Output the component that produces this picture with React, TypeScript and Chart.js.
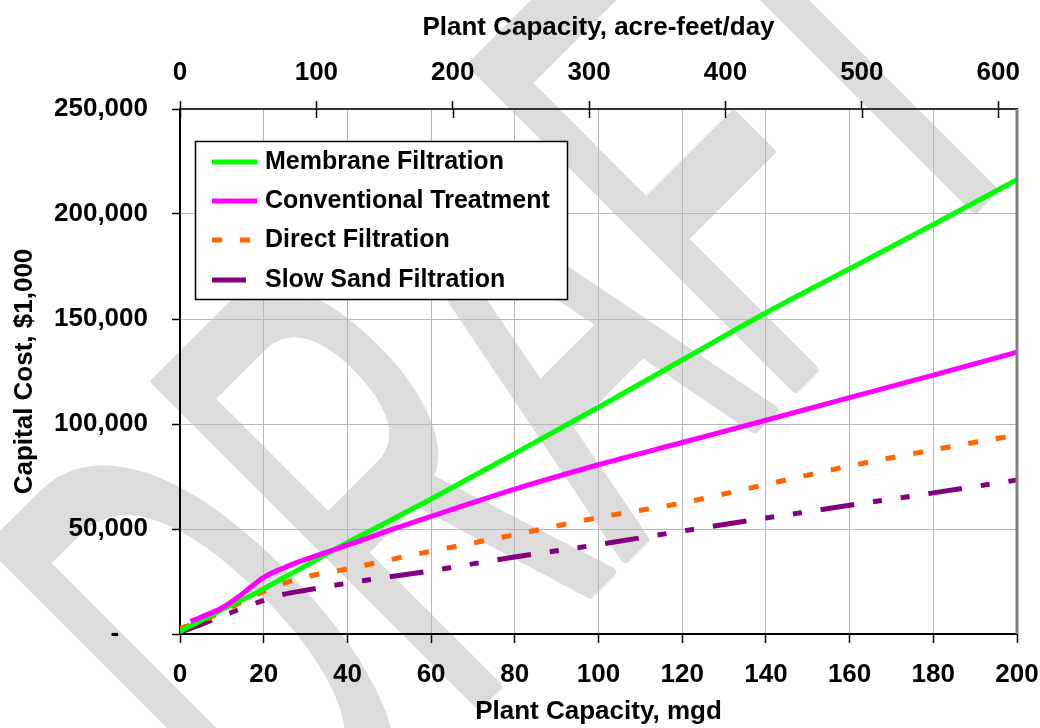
import React, { useEffect, useRef } from "react";
import { Chart, registerables } from "chart.js";

Chart.register(...registerables);

// ---- data ----
const capacityMgd = [0, 2.5, 5, 10, 15, 20, 25, 30, 40, 50, 60, 80, 100, 120, 140, 160, 180, 200];
const membraneFiltration = [1200, 3800, 6300, 11500, 16500, 21500, 27000, 32500, 43500, 53800, 64300, 86000, 108000, 130500, 153000, 174000, 195000, 216300];
const conventionalTreatment = [null, 6000, 8000, 12400, 19300, 27000, 31700, 35500, 42300, 49300, 56000, 69000, 80600, 91200, 101800, 112600, 123300, 134200];
const directFiltration = [2700, 4300, 6000, 10500, 15500, 20300, 24300, 27200, 31000, 35300, 39400, 47300, 55500, 62400, 71200, 80000, 87700, 94800];
const slowSandFiltration = [800, 2700, 4500, 8500, 12300, 16000, 19000, 20800, 24200, 27200, 30100, 36700, 42600, 49000, 55200, 61300, 67200, 73300];

const seriesNames = ["Membrane Filtration", "Conventional Treatment", "Direct Filtration", "Slow Sand Filtration"];
const seriesColors = ["#00FF00", "#FF00FF", "#FF6600", "#800080"];
const seriesDashes: number[][] = [[], [], [10, 18], [34, 19, 9, 19, 9, 19]];
const seriesValues = [membraneFiltration, conventionalTreatment, directFiltration, slowSandFiltration];

const acreFeetPerMgd = 3.0689;
const xMax = 200;
const yMax = 250000;
const yStep = 50000;
const xStep = 20;
const topStep = 100;

const xTitle = "Plant Capacity, mgd";
const topTitle = "Plant Capacity, acre-feet/day";
const yTitle = "Capital Cost, $1,000";
const watermarkText = "DRAFT";

const FONT = "'Liberation Sans', Arial, sans-serif";

export default function App() {
  const ref = useRef<HTMLCanvasElement | null>(null);

  useEffect(() => {
    document.body.style.margin = "0";
    const canvas = ref.current;
    if (!canvas) return;

    const watermark = {
      id: "watermark",
      beforeDraw(chart: any) {
        const ctx = chart.ctx;
        ctx.save();
        ctx.fillStyle = "#ffffff";
        ctx.fillRect(0, 0, chart.width, chart.height);
        ctx.translate(294, 889);
        ctx.rotate(-Math.PI / 4);
        ctx.scale(0.486, 1);
        ctx.font = `663px ${FONT}`;
        ctx.fillStyle = "#dcdcdc";
        ctx.strokeStyle = "#dcdcdc";
        ctx.lineWidth = 10;
        ctx.lineJoin = "round";
        ctx.textBaseline = "alphabetic";
        ctx.fillText(watermarkText, 0, 0);
        ctx.strokeText(watermarkText, 0, 0);
        ctx.restore();
      },
    };

    const frame = {
      id: "frame",
      afterDatasetsDraw(chart: any) {
        const ctx = chart.ctx;
        const a = chart.chartArea;
        ctx.save();
        ctx.strokeStyle = "#808080";
        ctx.lineWidth = 3;
        ctx.beginPath();
        ctx.moveTo(a.right, a.top);
        ctx.lineTo(a.right, a.bottom);
        ctx.stroke();
        const top = chart.scales.x2;
        ctx.strokeStyle = "#000";
        ctx.lineWidth = 1.5;
        top.ticks.forEach((t: any) => {
          const px = Math.round(top.getPixelForValue(t.value)) + 0.5;
          ctx.beginPath();
          ctx.moveTo(px, a.top);
          ctx.lineTo(px, a.top + 9);
          ctx.stroke();
        });
        ctx.restore();
      },
      afterDraw(chart: any) {
        const ctx = chart.ctx;
        ctx.save();
        const bx = 195.5, by = 141.5, bw = 372, bh = 158;
        ctx.fillStyle = "#fff";
        ctx.fillRect(bx, by, bw, bh);
        ctx.strokeStyle = "#000";
        ctx.lineWidth = 1.5;
        ctx.strokeRect(bx, by, bw, bh);
        const rows = [162, 201, 240, 280];
        ctx.font = `bold 25px ${FONT}`;
        ctx.textBaseline = "middle";
        ctx.textAlign = "left";
        seriesNames.forEach((name, i) => {
          ctx.strokeStyle = seriesColors[i];
          ctx.lineWidth = 5;
          ctx.lineCap = "butt";
          ctx.setLineDash(seriesDashes[i]);
          ctx.beginPath();
          ctx.moveTo(212, rows[i]);
          ctx.lineTo(257, rows[i]);
          ctx.stroke();
          ctx.setLineDash([]);
          ctx.fillStyle = "#000";
          ctx.fillText(name, 265, rows[i]);
        });
        ctx.restore();
      },
    };

    const tickFont = { family: FONT, size: 26, weight: "bold" as const, lineHeight: 1 };
    const titleFont = { family: FONT, size: 26, weight: "bold" as const, lineHeight: 1 };

    const datasets = seriesNames.map((name, i) => ({
      label: name,
      data: capacityMgd.map((x, j) => ({ x, y: seriesValues[i][j] })),
      borderColor: seriesColors[i],
      backgroundColor: seriesColors[i],
      borderWidth: 5,
      borderDash: seriesDashes[i],
      pointRadius: 0,
      fill: false,
      cubicInterpolationMode: "monotone" as const,
      order: [2, 1, 3, 4][i],
    }));

    const chart = new Chart(canvas, {
      type: "line",
      data: { datasets },
      plugins: [watermark, frame],
      options: {
        animation: false,
        responsive: false,
        layout: { padding: { left: 0, right: 23, top: 0, bottom: 0 } },
        plugins: { legend: { display: false }, tooltip: { enabled: false } },
        scales: {
          x: {
            type: "linear",
            position: "bottom",
            min: 0,
            max: xMax,
            ticks: { stepSize: xStep, color: "#000", font: tickFont, padding: 19, autoSkip: false, maxRotation: 0 },
            grid: { color: "#b8b8b8", lineWidth: 1, tickColor: "#000", tickLength: 9, tickWidth: 1.5 },
            border: { display: true, color: "#000", width: 2 },
            title: { display: true, text: xTitle, color: "#000", font: titleFont, padding: { top: 0, bottom: 3 } },
            afterFit: (s: any) => { s.height = 94; s.paddingLeft = 0; s.paddingRight = 0; },
          },
          x2: {
            type: "linear",
            position: "top",
            min: 0,
            max: xMax * acreFeetPerMgd,
            ticks: { stepSize: topStep, includeBounds: false, color: "#000", font: tickFont, padding: 15, autoSkip: false, maxRotation: 0 },
            grid: { drawOnChartArea: false, color: "#000", tickColor: "#000", tickLength: 8, tickWidth: 1.5 },
            border: { display: true, color: "#333", width: 2 },
            title: { display: true, text: topTitle, color: "#000", font: titleFont, padding: { top: 15, bottom: 0 } },
            afterFit: (s: any) => { s.height = 109; s.paddingLeft = 0; s.paddingRight = 0; },
          },
          y: {
            type: "linear",
            position: "left",
            min: 0,
            max: yMax,
            ticks: {
              stepSize: yStep,
              color: "#000",
              font: tickFont,
              padding: 24,
              callback: (v: any) => (Number(v) === 0 ? "-    " : Number(v).toLocaleString("en-US")),
            },
            grid: { color: "#b8b8b8", lineWidth: 1, tickColor: "#000", tickLength: 8, tickWidth: 1.5 },
            border: { display: true, color: "#000", width: 2 },
            title: { display: true, text: yTitle, color: "#000", font: titleFont, padding: { top: 12, bottom: 0 } },
            afterFit: (s: any) => { s.width = 180; s.paddingTop = 0; s.paddingBottom = 0; },
          },
        },
      },
    });

    return () => chart.destroy();
  }, []);

  return (
    <div style={{ width: 1040, height: 728 }}>
      <canvas ref={ref} width={1040} height={728} />
    </div>
  );
}
